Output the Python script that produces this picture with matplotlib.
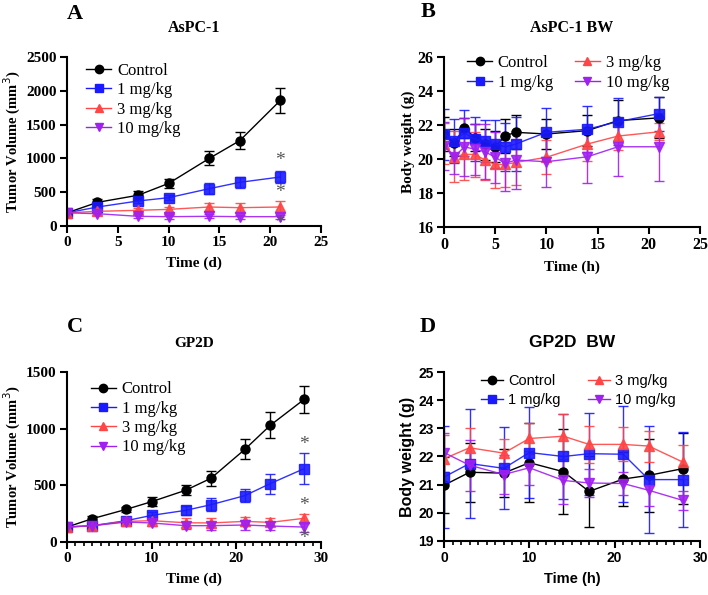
import matplotlib
matplotlib.use("Agg")
import matplotlib.pyplot as plt
from matplotlib.lines import Line2D
from matplotlib.ticker import MultipleLocator

# ---- panel A: AsPC-1 tumor volume ----
a_days = [0, 3, 7, 10, 14, 17, 21]
a_ctrl = [195, 350, 455, 630, 1000, 1262, 1858]
a_ctrl_err = [15, 50, 70, 70, 105, 130, 190]
a_1mg = [195, 281, 370, 419, 552, 646, 725]
a_1mg_err = [15, 50, 30, 40, 80, 80, 95]
a_3mg = [195, 217, 232, 246, 281, 271, 281]
a_3mg_err = [15, 20, 40, 40, 60, 70, 90]
a_10mg = [195, 182, 143, 138, 143, 138, 138]
a_10mg_err = [15, 20, 30, 30, 30, 30, 30]
a_stars = [970, 490, 40]

# ---- panel B: AsPC-1 body weight ----
b_days = [0, 1, 2, 3, 4, 5, 6, 7, 10, 14, 17, 21]
b_ctrl = [21.47, 20.96, 21.83, 21.26, 20.86, 20.72, 21.37, 21.57, 21.47, 21.67, 22.26, 22.42]
b_ctrl_err = [1.0, 0.8, 0.6, 0.8, 0.9, 0.9, 1.0, 1.0, 0.9, 0.9, 1.2, 1.2]
b_1mg = [21.47, 21.08, 21.53, 21.16, 21.06, 20.88, 20.72, 20.88, 21.57, 21.75, 22.20, 22.67]
b_1mg_err = [1.5, 1.3, 1.35, 1.3, 1.25, 1.4, 1.4, 1.6, 1.45, 1.35, 1.4, 1.0]
b_3mg = [20.90, 20.13, 20.27, 20.27, 19.94, 19.68, 19.68, 19.80, 20.10, 20.88, 21.35, 21.60]
b_3mg_err = [1.2, 1.5, 1.5, 1.3, 1.15, 1.4, 1.3, 1.3, 1.0, 1.0, 0.8, 0.5]
b_10mg = [20.78, 20.13, 20.72, 20.57, 20.43, 20.10, 19.74, 19.94, 19.84, 20.13, 20.72, 20.72]
b_10mg_err = [1.4, 1.0, 1.7, 1.5, 1.6, 1.5, 1.6, 1.7, 1.5, 1.55, 1.7, 2.0]

# ---- panel C: GP2D tumor volume ----
c_days = [0, 3, 7, 10, 14, 17, 21, 24, 28]
c_ctrl = [132, 206, 288, 356, 456, 562, 817, 1029, 1258]
c_ctrl_err = [10, 20, 20, 40, 45, 65, 88, 115, 118]
c_1mg = [132, 144, 188, 235, 279, 329, 409, 515, 647]
c_1mg_err = [10, 20, 20, 30, 40, 55, 60, 88, 135]
c_3mg = [132, 144, 182, 188, 170, 168, 182, 173, 209]
c_3mg_err = [10, 20, 20, 30, 40, 40, 40, 35, 40]
c_10mg = [132, 144, 176, 168, 144, 144, 150, 141, 132]
c_10mg_err = [10, 20, 20, 25, 30, 35, 40, 35, 40]
c_stars = [860, 326, 35]

# ---- panel D: GP2D body weight ----
d_days = [0, 3, 7, 10, 14, 17, 21, 24, 28]
d_ctrl = [20.98, 21.44, 21.41, 21.78, 21.46, 20.76, 21.20, 21.33, 21.57]
d_ctrl_err = [1.0, 1.05, 0.85, 1.4, 1.5, 1.25, 0.95, 1.3, 1.25]
d_1mg = [21.27, 21.75, 21.58, 22.14, 22.00, 22.10, 22.08, 21.18, 21.18]
d_1mg_err = [1.8, 1.95, 1.45, 1.6, 1.5, 1.45, 1.7, 1.9, 1.7]
d_3mg = [21.92, 22.31, 22.12, 22.64, 22.72, 22.43, 22.43, 22.37, 21.80]
d_3mg_err = [0.85, 0.7, 0.5, 0.55, 0.8, 0.65, 0.6, 0.55, 0.6]
d_10mg = [22.14, 21.69, 21.36, 21.60, 21.15, 21.06, 21.04, 20.80, 20.44]
d_10mg_err = [0.7, 0.9, 0.7, 0.6, 0.85, 0.5, 0.4, 0.55, 0.35]

labels = ["Control", "1 mg/kg", "3 mg/kg", "10 mg/kg"]
colors = ["black", "#1a1aff", "#ff4545", "#a020f0"]
markers = ["o", "s", "^", "v"]

serif = "Liberation Serif"
sans = "Liberation Sans"

W, H = 708, 595
fig = plt.figure(figsize=(W / 100, H / 100), dpi=100)


def px_axes(l, t, r, b):
    # axes from pixel box (left, top, right, bottom)
    return fig.add_axes([l / W, 1 - b / H, (r - l) / W, (b - t) / H])


def draw(ax, x, series, errs, family, sizes, xlim, xmaj, ylim, ymaj,
         xlabel, ylabel, title, minor=False):
    tick_fs, xl_fs, yl_fs, title_fs = sizes
    for i in range(4):
        ax.errorbar(x, series[i], yerr=errs[i], color=colors[i], marker=markers[i],
                    markersize=6.5, lw=1, elinewidth=1, capsize=3.5, capthick=1,
                    alpha=1 if i == 0 else 0.9)
    for s in ["top", "right"]:
        ax.spines[s].set_visible(False)
    for s in ["left", "bottom"]:
        ax.spines[s].set_linewidth(1.5)
    ax.set_xlim(*xlim)
    ax.set_ylim(*ylim)
    ax.xaxis.set_major_locator(MultipleLocator(xmaj))
    ax.yaxis.set_major_locator(MultipleLocator(ymaj))
    if minor:
        ax.xaxis.set_minor_locator(MultipleLocator(1))
        ax.tick_params(axis="x", which="minor", length=3, width=1.2)
    ax.tick_params(which="major", length=5, width=1.5, direction="out", pad=2.5)
    for t in ax.get_xticklabels() + ax.get_yticklabels():
        t.set_fontfamily(family)
        t.set_fontweight("bold")
        t.set_fontsize(tick_fs)
    ax.set_xlabel(xlabel, fontfamily=family, fontweight="bold", fontsize=xl_fs, labelpad=5)
    ax.set_ylabel(ylabel, fontfamily=family, fontweight="bold", fontsize=yl_fs, labelpad=2)
    ax.set_title(title, fontfamily=family, fontweight="bold", fontsize=title_fs, pad=18)


def legend(ax, family, fs, ncol, anchor, colsp, lsp=0.2):
    handles = [Line2D([], [], color=colors[i], marker=markers[i], markersize=6, lw=1)
               for i in range(4)]
    ax.legend(handles, labels,
              loc="upper left", bbox_to_anchor=anchor, ncol=ncol, frameon=False,
              prop={"family": family, "size": fs}, handlelength=1.5,
              handletextpad=0.35, labelspacing=lsp, columnspacing=colsp,
              borderaxespad=0, borderpad=0)


def letter(xp, yp, s):
    fig.text(xp / W, 1 - yp / H, s, fontfamily=serif, fontweight="bold",
             fontsize=16, va="baseline", ha="left")


def stars(ax, xpos, ys):
    for y in ys:
        ax.text(xpos, y, "*", color="#555555", fontsize=14, fontfamily=serif,
                ha="center", va="center", zorder=10)


axA = px_axes(67, 57, 321, 226)
draw(axA, a_days, [a_ctrl, a_1mg, a_3mg, a_10mg], [a_ctrl_err, a_1mg_err, a_3mg_err, a_10mg_err],
     serif, (11, 11, 10.5, 11.5), (0, 25), 5, (0, 2500), 500,
     "Time (d)", "Tumor Volume (mm$^3$)", "AsPC-1")
legend(axA, serif, 12, 1, (0.075, 0.965), 1.5)
stars(axA, 21, a_stars)
letter(67, 19, "A")

axB = px_axes(444, 57, 700, 227)
draw(axB, b_days, [b_ctrl, b_1mg, b_3mg, b_10mg], [b_ctrl_err, b_1mg_err, b_3mg_err, b_10mg_err],
     serif, (11.5, 11, 11, 11.5), (0, 25), 5, (16, 26), 2,
     "Time (h)", "Body weight (g)", "AsPC-1 BW")
legend(axB, serif, 12, 2, (0.09, 1.01), 1.3)
letter(421, 17, "B")

axC = px_axes(67, 372, 321, 542)
draw(axC, c_days, [c_ctrl, c_1mg, c_3mg, c_10mg], [c_ctrl_err, c_1mg_err, c_3mg_err, c_10mg_err],
     serif, (11, 11, 10.5, 11), (0, 30), 10, (0, 1500), 500,
     "Time (d)", "Tumor Volume (mm$^3$)", "GP2D", minor=True)
legend(axC, serif, 12, 1, (0.094, 0.945), 1.5)
stars(axC, 28, c_stars)
letter(67, 332, "C")

axD = px_axes(444, 372, 700, 541)
draw(axD, d_days, [d_ctrl, d_1mg, d_3mg, d_10mg], [d_ctrl_err, d_1mg_err, d_3mg_err, d_10mg_err],
     sans, (10, 10.5, 11.5, 12.5), (0, 30), 10, (19, 25), 1,
     "Time (h)", "Body weight (g)", "GP2D  BW", minor=True)
legend(axD, sans, 10.5, 2, (0.145, 0.99), 1.9, lsp=0.35)
letter(420, 332, "D")

fig.savefig("out.png", dpi=100)
